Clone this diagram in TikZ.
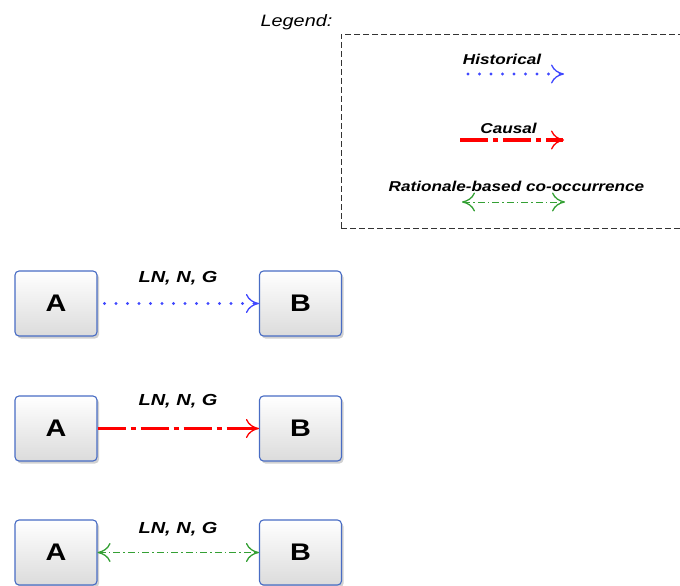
\documentclass[tikz,border=0pt]{standalone}
\usepackage{fontspec}
\setmainfont{Liberation Sans}
\usetikzlibrary{arrows.meta,shadows}
\definecolor{boxblue}{RGB}{72,108,196}
\definecolor{hblue}{RGB}{64,72,255}
\definecolor{cgreen}{RGB}{52,160,52}
\newcommand{\sx}[1]{\scalebox{1.2}[1]{#1}}
\newcommand{\sxl}[1]{\scalebox{1.25}[1]{#1}}
\tikzset{
  box/.style={draw=boxblue, line width=1.1pt, rounded corners=4pt,
    minimum width=82pt, minimum height=65pt, inner sep=0pt,
    top color=white, bottom color=black!14,
    drop shadow={shadow xshift=2pt, shadow yshift=-2.5pt, opacity=0.3, fill=black!60},
    font=\fontsize{24}{24}\selectfont\bfseries},
  lbl/.style={font=\fontsize{16}{16}\selectfont\bfseries\itshape, inner sep=0pt, anchor=base},
  leglbl/.style={font=\fontsize{14.3}{14.3}\selectfont\bfseries\itshape, inner sep=0pt, anchor=base},
  legendbox/.style={draw=black!80, line width=0.9pt, dash pattern=on 6pt off 3pt, inner sep=0pt},
  tipx/.tip={Computer Modern Rightarrow[length=13pt,width=19pt,line width=1.3pt 0]},
  hist/.style={draw=hblue, line width=3.2pt, line cap=round, dash pattern=on 0pt off 11.5pt, -tipx},
  caus/.style={draw=red, line width=3.2pt, dash pattern=on 28pt off 5pt on 5pt off 5pt, -tipx},
  rat/.style={draw=cgreen, line width=1pt, dash pattern=on 7pt off 3pt on 1.5pt off 3pt, tipx-tipx},
}
\begin{document}
\begin{tikzpicture}[x=1pt,y=-1pt]
\useasboundingbox (0,0) rectangle (680,586);

% legend
\node[font=\fontsize{16.5}{16.5}\selectfont\itshape, inner sep=0pt, anchor=base] (leg) at (296.5,27) {\sx{Legend:}};
\node[legendbox, minimum width=340pt, minimum height=194pt] (LB) at (511,131) {};

\node[leglbl] (th) at (502,65) {\sx{Historical}};
\coordinate (h1) at (468,74);
\coordinate (h2) at (564,74);
\draw[hist] (h1) -- (h2);

\node[leglbl] (tc) at (508.5,133) {\sx{Causal}};
\coordinate (c1) at (460,140);
\coordinate (c2) at (564,140);
\draw[caus] (c1) -- (c2);

\node[leglbl] (tr) at (516.5,191) {\sx{Rationale-based co-occurrence}};
\coordinate (r1) at (462,202);
\coordinate (r2) at (565,202);
\draw[rat] (r1) -- (r2);

% rows
\node[box] (A1) at (56,303.5) {\sx{A}};
\node[box] (B1) at (300.5,303.5) {\sx{B}};
\node[box] (A2) at (56,428.5) {\sx{A}};
\node[box] (B2) at (300.5,428.5) {\sx{B}};
\node[box] (A3) at (56,552.5) {\sx{A}};
\node[box] (B3) at (300.5,552.5) {\sx{B}};

\node[lbl] (L1) at (178,282) {\sxl{LN, N, G}};
\node[lbl] (L2) at (178,405) {\sxl{LN, N, G}};
\node[lbl] (L3) at (178,533) {\sxl{LN, N, G}};

\draw[hist, shorten <=7pt] (A1) -- (B1);
\draw[caus] (A2) -- (B2);
\draw[rat] (A3) -- (B3);
\end{tikzpicture}
\end{document}
